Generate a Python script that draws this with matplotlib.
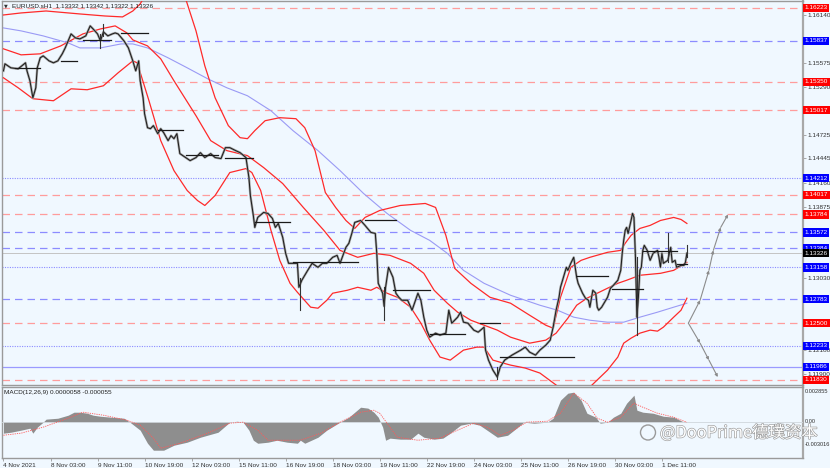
import matplotlib
matplotlib.use("Agg")
import matplotlib.pyplot as plt
import matplotlib.transforms as mtransforms
import matplotlib.patheffects as pe
from matplotlib.patches import Circle

# ---- data (bar index = hours from 4 Nov 19:00) ----
price_path = [(0, 1.15480), (1, 1.15563), (5, 1.15516), (10, 1.15504), (15, 1.15575), (16, 1.15480),
    (18, 1.15363), (20, 1.15162), (22, 1.15280), (23, 1.15516), (25, 1.15634), (27, 1.15657),
    (31, 1.15598), (34, 1.15575), (37, 1.15598), (40, 1.15681), (42, 1.15751), (44, 1.15834),
    (46, 1.15916), (49, 1.15869), (52, 1.15857), (56, 1.15893), (59, 1.16011), (61, 1.15975),
    (64, 1.15916), (66, 1.15834), (68, 1.15940), (71, 1.15893), (74, 1.15916), (76, 1.15928),
    (78, 1.15916), (82, 1.15834), (85, 1.15751), (88, 1.15598), (90, 1.15480), (92, 1.15598),
    (93, 1.15363), (95, 1.15162), (96, 1.14974), (98, 1.14809), (100, 1.14797), (102, 1.14833),
    (105, 1.14738), (107, 1.14797), (109, 1.14750), (112, 1.14656), (114, 1.14715), (116, 1.14679),
    (118, 1.14738), (120, 1.14503), (124, 1.14456), (127, 1.14420), (131, 1.14456), (134, 1.14514),
    (137, 1.14456), (141, 1.14503), (144, 1.14456), (148, 1.14444), (151, 1.14573), (154, 1.14573),
    (158, 1.14538), (161, 1.14514), (165, 1.14456), (167, 1.14220), (168, 1.14008), (170, 1.13772),
    (171, 1.13631), (173, 1.13749), (177, 1.13808), (180, 1.13796), (183, 1.13737), (185, 1.13631),
    (187, 1.13678), (190, 1.13513), (192, 1.13325), (194, 1.13207), (197, 1.13207), (200, 1.13207),
    (201, 1.12924), (203, 1.13007), (207, 1.13124), (210, 1.13207), (214, 1.13160), (217, 1.13207),
    (220, 1.13207), (224, 1.13278), (227, 1.13301), (229, 1.13207), (233, 1.13396), (235, 1.13443),
    (237, 1.13560), (239, 1.13690), (243, 1.13713), (246, 1.13655), (250, 1.13572), (253, 1.13560),
    (254, 1.13325), (255, 1.12971), (258, 1.12854), (259, 1.12700), (260, 1.12924), (262, 1.13160),
    (265, 1.13042), (267, 1.12854), (269, 1.12806), (271, 1.12771), (275, 1.12771), (278, 1.12653),
    (282, 1.12854), (284, 1.12771), (286, 1.12571), (288, 1.12418), (290, 1.12335), (294, 1.12382),
    (297, 1.12359), (301, 1.12382), (303, 1.12653), (305, 1.12500), (309, 1.12571), (311, 1.12630),
    (313, 1.12512), (316, 1.12500), (320, 1.12418), (323, 1.12394), (327, 1.12453), (328, 1.12182),
    (330, 1.12064), (333, 1.11946), (336, 1.11864), (338, 1.11982), (341, 1.12064), (344, 1.12100),
    (346, 1.12123), (352, 1.12182), (355, 1.12217), (358, 1.12158), (362, 1.12123), (365, 1.12182),
    (369, 1.12241), (372, 1.12300), (374, 1.12453), (376, 1.12653), (378, 1.12806), (379, 1.12924),
    (381, 1.13042), (383, 1.13160), (384, 1.13124), (386, 1.13207), (388, 1.13278), (390, 1.13042),
    (391, 1.12971), (394, 1.12854), (396, 1.12795), (398, 1.12771), (399, 1.12689), (401, 1.12889),
    (403, 1.12854), (404, 1.12689), (405, 1.12653), (407, 1.12689), (411, 1.12806), (413, 1.12913),
    (415, 1.12948), (418, 1.13007), (420, 1.13124), (421, 1.13325), (422, 1.13478), (423, 1.13596),
    (424, 1.13631), (425, 1.13560), (427, 1.13713), (428, 1.13796), (429, 1.13749), (430, 1.13278),
    (431, 1.12571), (432, 1.12806), (433, 1.13124), (434, 1.13160), (435, 1.13360), (436, 1.13419),
    (438, 1.13360), (440, 1.13242), (442, 1.13325), (445, 1.13360), (446, 1.13278), (447, 1.13160),
    (448, 1.13325), (449, 1.13207), (452, 1.13242), (454, 1.13396), (455, 1.13219), (457, 1.13242),
    (458, 1.13160), (461, 1.13183), (463, 1.13183), (464, 1.13219), (465, 1.13326)]

# long wicks: (bar, low, high)
wicks = [(66, 1.15751, 1.15916), (68, 1.15893, 1.16034), (202, 1.12653, 1.13030),
         (259, 1.12535, 1.12924), (336, 1.11840, 1.11982), (431, 1.12359, 1.13278),
         (452, 1.13219, 1.13560), (465, 1.13280, 1.13420)]

# short black horizontal segments: (start bar, end bar, price)
segments = [(8, 25, 1.15516), (39, 50, 1.15598), (54, 73, 1.15846), (80, 98, 1.15928),
            (105, 122, 1.14785), (124, 146, 1.14491), (151, 170, 1.14456), (171, 195, 1.13690),
            (197, 241, 1.13219), (246, 267, 1.13713), (265, 290, 1.12889), (290, 314, 1.12370),
            (324, 338, 1.12500), (338, 388, 1.12100), (390, 411, 1.13054), (414, 435, 1.12901),
            (435, 458, 1.13348), (458, 465, 1.13195)]

bb_upper = [(0, 1.16140), (12, 1.16164), (29, 1.16187), (52, 1.16152), (69, 1.16128), (81, 1.16117),
    (88, 1.16187), (93, 1.16270), (100, 1.16482), (110, 1.16717), (118, 1.16658), (124, 1.16329),
    (131, 1.15952), (137, 1.15539), (144, 1.15162), (153, 1.14833), (161, 1.14691), (166, 1.14679),
    (171, 1.14774), (178, 1.14891), (188, 1.14927), (199, 1.14915), (205, 1.14809), (212, 1.14538),
    (219, 1.14043), (226, 1.13867), (233, 1.13713), (239, 1.13619), (246, 1.13749), (256, 1.13831),
    (270, 1.13890), (287, 1.13914), (294, 1.13867), (301, 1.13537), (307, 1.13148), (318, 1.12971),
    (331, 1.12806), (345, 1.12736), (358, 1.12594), (369, 1.12476), (374, 1.12441), (379, 1.12806),
    (383, 1.13007), (386, 1.13160), (393, 1.13242), (399, 1.13278), (411, 1.13337), (420, 1.13360),
    (423, 1.13443), (427, 1.13537), (433, 1.13619), (440, 1.13655), (447, 1.13713), (456, 1.13749),
    (461, 1.13725), (465, 1.13678)]

bb_middle = [(0, 1.15740), (12, 1.15669), (25, 1.15681), (39, 1.15775), (54, 1.15916), (66, 1.15975),
    (76, 1.16011), (84, 1.15928), (88, 1.15846), (93, 1.15810), (98, 1.15775), (107, 1.15622),
    (116, 1.15363), (131, 1.14950), (141, 1.14656), (152, 1.14538), (166, 1.14479), (177, 1.14338),
    (190, 1.14149), (204, 1.13867), (218, 1.13596), (229, 1.13360), (241, 1.13278), (252, 1.13325),
    (263, 1.13301), (277, 1.13207), (286, 1.13089), (293, 1.12889), (302, 1.12736), (309, 1.12630),
    (318, 1.12535), (327, 1.12476), (336, 1.12418), (345, 1.12335), (358, 1.12264), (369, 1.12300),
    (376, 1.12382), (384, 1.12559), (390, 1.12712), (397, 1.12795), (404, 1.12854), (411, 1.12913),
    (418, 1.12971), (424, 1.13007), (433, 1.13066), (447, 1.13089), (456, 1.13124), (465, 1.13219)]

bb_lower = [(0, 1.15398), (10, 1.15280), (20, 1.15151), (34, 1.15127), (46, 1.15268), (57, 1.15257),
    (68, 1.15304), (78, 1.15457), (88, 1.15598), (91, 1.15575), (99, 1.15127), (107, 1.14656),
    (116, 1.14302), (125, 1.14067), (132, 1.13949), (137, 1.13890), (144, 1.14008), (154, 1.14279),
    (165, 1.14326), (169, 1.14279), (175, 1.14067), (182, 1.13596), (188, 1.13242), (195, 1.12971),
    (200, 1.12865), (209, 1.12689), (214, 1.12677), (220, 1.12771), (224, 1.12854), (234, 1.12889),
    (241, 1.12924), (250, 1.12889), (254, 1.12924), (261, 1.12854), (268, 1.12806), (277, 1.12689),
    (284, 1.12500), (290, 1.12300), (297, 1.12100), (304, 1.12064), (313, 1.12182), (322, 1.12217),
    (327, 1.12217), (333, 1.12064), (340, 1.12029), (345, 1.12005), (355, 1.11970), (365, 1.11911),
    (376, 1.11770), (383, 1.11652), (391, 1.11616), (399, 1.11746), (411, 1.11946), (418, 1.12100),
    (422, 1.12264), (427, 1.12323), (433, 1.12382), (440, 1.12418), (445, 1.12406), (449, 1.12453),
    (456, 1.12571), (461, 1.12653), (465, 1.12795)]

slow_ma = [(0, 1.15987), (12, 1.15952), (27, 1.15893), (44, 1.15810), (52, 1.15751), (66, 1.15751),
    (80, 1.15798), (88, 1.15798), (98, 1.15751), (112, 1.15634), (125, 1.15516), (139, 1.15386),
    (152, 1.15280), (166, 1.15186), (182, 1.15009), (197, 1.14774), (214, 1.14538), (229, 1.14302),
    (245, 1.14032), (261, 1.13796), (277, 1.13596), (290, 1.13478), (302, 1.13325), (313, 1.13124),
    (327, 1.12971), (345, 1.12830), (365, 1.12712), (377, 1.12653), (388, 1.12571), (399, 1.12535),
    (411, 1.12512), (422, 1.12512), (433, 1.12571), (445, 1.12630), (456, 1.12689), (465, 1.12736)]

arrow_up = [(466, 1.12500), (474, 1.12771), (480, 1.13124), (483, 1.13360), (488, 1.13631), (493, 1.13784)]
arrow_down = [(466, 1.12500), (474, 1.12264), (480, 1.12064), (486, 1.11864)]

red_dash_levels = [1.16223, 1.15350, 1.15017, 1.14017, 1.13784, 1.12500, 1.11830]
blue_dash_levels = [1.15837, 1.13572, 1.13384, 1.12783]
blue_dot_levels = [1.14212, 1.13158, 1.12233]
blue_solid_levels = [1.11986]
current_price = 1.13326

# scale values that are not hidden behind a level label
price_ticks = [1.16140, 1.15575, 1.15290, 1.14725, 1.14445, 1.14160,
               1.13875, 1.13030, 1.12180, 1.11900]

date_labels = ["4 Nov 2021", "8 Nov 03:00", "9 Nov 11:00", "10 Nov 19:00", "12 Nov 03:00",
               "15 Nov 11:00", "16 Nov 19:00", "18 Nov 03:00", "19 Nov 11:00", "22 Nov 19:00",
               "24 Nov 03:00", "25 Nov 11:00", "26 Nov 19:00", "30 Nov 03:00", "1 Dec 11:00"]
date_bars = [0, 32, 64, 96, 128, 160, 192, 224, 256, 288, 320, 352, 384, 416, 448]

macd_hist = [(0, -0.00099), (5, -0.00091), (12, -0.00073), (18, -0.00056), (20, -0.00099), (23, -0.00047),
    (27, -0.00004), (29, 0.00022), (37, 0.00030), (44, 0.00056), (48, 0.00082), (52, 0.00082),
    (57, 0.00073), (61, 0.00056), (66, 0.00047), (73, 0.00039), (82, 0.00030), (86, -0.00004),
    (93, -0.00073), (98, -0.00186), (102, -0.00246), (109, -0.00246), (116, -0.00203), (125, -0.00177),
    (134, -0.00134), (146, -0.00091), (154, -0.00004), (159, 0.00004), (163, -0.00004), (167, -0.00073),
    (170, -0.00160), (173, -0.00186), (180, -0.00177), (186, -0.00160), (193, -0.00177), (200, -0.00186),
    (202, -0.00160), (205, -0.00186), (214, -0.00134), (220, -0.00073), (229, -0.00004), (235, 0.00039),
    (243, 0.00125), (248, 0.00117), (252, 0.00082), (255, 0.00039), (258, -0.00047), (260, -0.00160),
    (263, -0.00142), (270, -0.00151), (277, -0.00151), (282, -0.00099), (286, -0.00134), (293, -0.00151),
    (299, -0.00142), (304, -0.00099), (311, -0.00030), (318, -0.00013), (324, -0.00030), (329, -0.00073),
    (336, -0.00134), (343, -0.00117), (350, -0.00047), (354, -0.00004), (361, -0.00013), (370, -0.00004),
    (374, 0.00030), (379, 0.00186), (384, 0.00246), (388, 0.00255), (393, 0.00186), (397, 0.00073),
    (403, 0.00039), (406, -0.00013), (411, -0.00004), (415, 0.00039), (420, 0.00073), (424, 0.00160),
    (429, 0.00229), (431, 0.00099), (435, 0.00082), (442, 0.00073), (449, 0.00047), (456, 0.00039),
    (463, -0.00004), (465, 0.00001)]

macd_signal = [(0, -0.00117), (12, -0.00099), (27, -0.00047), (44, 0.00030), (54, 0.00082), (68, 0.00056),
    (84, 0.00013), (93, -0.00030), (102, -0.00142), (107, -0.00229), (120, -0.00186), (139, -0.00099),
    (154, -0.00013), (163, -0.00004), (173, -0.00073), (180, -0.00160), (195, -0.00160), (202, -0.00160),
    (216, -0.00099), (229, -0.00004), (243, 0.00082), (252, 0.00099), (256, 0.00073), (261, -0.00013),
    (268, -0.00134), (282, -0.00160), (297, -0.00142), (309, -0.00073), (320, -0.00013), (329, -0.00047),
    (338, -0.00117), (347, -0.00073), (356, -0.00004), (370, 0.00004), (379, 0.00073), (388, 0.00246),
    (397, 0.00160), (404, 0.00030), (411, -0.00004), (420, 0.00039), (429, 0.00160), (435, 0.00125),
    (445, 0.00073), (456, 0.00039), (465, -0.00005)]

# ---- drawing ----
bg = "#f0f8ff"
plt.rcParams["font.family"] = ["Liberation Sans Narrow", "Liberation Sans", "DejaVu Sans"]
fs = 4.6

fig = plt.figure(figsize=(8.3, 4.68), dpi=100, facecolor=bg)
ax = fig.add_axes([2 / 830, 1 - 385 / 468, 801 / 830, 384 / 468], facecolor=bg)
ax2 = fig.add_axes([2 / 830, 1 - 458 / 468, 801 / 830, 71 / 468], facecolor=bg)

for a in (ax, ax2):
    a.set_xlim(-1, 544)
    for s in a.spines.values():
        s.set_color("#9a9a9a")
        s.set_linewidth(1.0)
    a.spines["right"].set_linewidth(1.6)
    a.spines["right"].set_color("#a8a8a8")

ax.set_ylim(1.11770, 1.16305)
ax2.set_ylim(-0.003133, 0.002995)

def xs(pts):
    return [p[0] for p in pts]

def ys(pts):
    return [p[1] for p in pts]

# horizontal levels
for lv in red_dash_levels:
    ax.axhline(lv, color="#ff9c9c", lw=0.9, ls=(0, (6, 4)), zorder=1)
for lv in blue_dash_levels:
    ax.axhline(lv, color="#8c8cff", lw=0.9, ls=(0, (6, 4)), zorder=1)
for lv in blue_dot_levels:
    ax.axhline(lv, color="#8c8cff", lw=0.8, ls=(0, (1, 1.2)), zorder=1)
for lv in blue_solid_levels:
    ax.axhline(lv, color="#9a9aff", lw=0.9, zorder=1)
ax.axhline(current_price, color="#c4c4c4", lw=0.7, zorder=1)

# indicators
ax.plot(xs(slow_ma), ys(slow_ma), color="#9a9af5", lw=0.8, zorder=2)
for band in (bb_upper, bb_middle, bb_lower):
    ax.plot(xs(band), ys(band), color="#ff2a2a", lw=0.9, zorder=3)

# price
ax.plot(xs(price_path), ys(price_path), color="#a0a0a0", lw=1.7, zorder=4)
ax.plot(xs(price_path), ys(price_path), color="#1a1a1a", lw=0.7, zorder=5)
for b, lo, hi in wicks:
    ax.plot([b, b], [lo, hi], color="#333333", lw=0.8, zorder=5)
for b0, b1, lv in segments:
    ax.plot([b0, b1], [lv, lv], color="#1a1a1a", lw=0.9, zorder=6)

# projection arrows
for path in (arrow_up, arrow_down):
    for i in range(len(path) - 1):
        ax.annotate("", xy=path[i + 1], xytext=path[i],
                    arrowprops=dict(arrowstyle="-|>", color="#8c8c8c", lw=0.8,
                                    mutation_scale=4, shrinkA=0, shrinkB=0), zorder=6)

# right price axis
ax.yaxis.tick_right()
ax.set_yticks(price_ticks)
ax.set_yticklabels(["%.5f" % v for v in price_ticks])
ax.tick_params(axis="y", labelsize=fs, colors="#9a9a9a", labelcolor="#303030", length=2, pad=1.5, width=0.6)
ax.set_xticks([])

trans = mtransforms.blended_transform_factory(ax.transAxes, ax.transData)
for lv in red_dash_levels:
    ax.text(1.002, lv, "%.5f" % lv, transform=trans, fontsize=fs, color="white", va="center", ha="left",
            bbox=dict(boxstyle="square,pad=0.25", fc="#ff0000", ec="none"), clip_on=False, zorder=10)
for lv in blue_dash_levels + blue_dot_levels + blue_solid_levels:
    ax.text(1.002, lv, "%.5f" % lv, transform=trans, fontsize=fs, color="white", va="center", ha="left",
            bbox=dict(boxstyle="square,pad=0.25", fc="#0000ff", ec="none"), clip_on=False, zorder=10)
ax.text(1.002, current_price, "%.5f" % current_price, transform=trans, fontsize=fs, color="white",
        va="center", ha="left", bbox=dict(boxstyle="square,pad=0.25", fc="#000000", ec="none"),
        clip_on=False, zorder=11)

ax.text(0.003, 0.993, "\u25BC", transform=ax.transAxes, fontsize=3.5, va="top", family="DejaVu Sans", color="#333333")
ax.text(0.012, 0.993, "EURUSD.sH1  1.13332 1.13342 1.13322 1.13326", transform=ax.transAxes,
        fontsize=fs, va="top", color="#202020")

# MACD panel
ax2.fill_between(xs(macd_hist), ys(macd_hist), 0, color="#8e8e8e", lw=0, zorder=2)
ax2.axhline(0, color="#cfd6dc", lw=0.6, zorder=3)
ax2.plot(xs(macd_signal), ys(macd_signal), color="#ff5a5a", lw=0.6, ls=(0, (1.5, 1.2)), zorder=4)
ax2.set_yticks([])
ax2.text(0.003, 0.96, "MACD(12,26,9) 0.0000058 -0.000055", transform=ax2.transAxes, fontsize=fs,
         va="top", color="#202020")
trans2 = mtransforms.blended_transform_factory(ax2.transAxes, ax2.transData)
fs_small = 4.1
ax2.text(1.002, 0.00285, "0.002855", transform=trans2, fontsize=fs_small, va="top", color="#303030", clip_on=False)
ax2.text(1.002, 0.0, "0.00", transform=trans2, fontsize=fs_small, va="center", color="#303030", clip_on=False)
ax2.text(1.002, -0.00201, "-0.003016", transform=trans2, fontsize=fs_small, va="center", color="#303030", clip_on=False)

ax2.set_xticks(date_bars)
ax2.set_xticklabels(date_labels, ha="left")
ax2.tick_params(axis="x", labelsize=fs, colors="#9a9a9a", labelcolor="#303030", length=2, pad=1.5, width=0.6)

# watermark
fig.text(660 / 830, 1 - 433 / 468, "@DooPrime德璞资本", family=["Noto Sans CJK SC", "DejaVu Sans"],
         fontsize=11.8, color="white", va="center", ha="left", zorder=20,
         path_effects=[pe.withStroke(linewidth=0.9, foreground="#9a9a9a")])
fig.add_artist(Circle((6.48, 0.355), 0.075, transform=fig.dpi_scale_trans, fill=False,
                      ec="#9a9a9a", lw=1.0, zorder=20))

fig.savefig("out.png", dpi=100, facecolor=bg)
